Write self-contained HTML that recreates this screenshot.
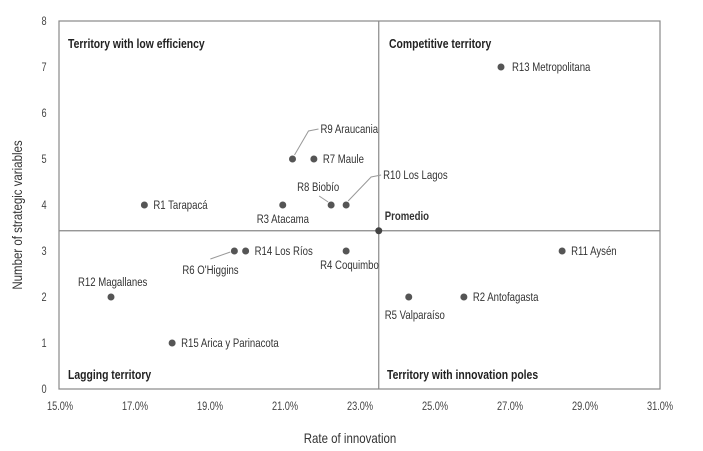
<!DOCTYPE html>
<html><head><meta charset="utf-8"><style>
body{margin:0;background:#fff;}
svg{display:block;font-family:"Liberation Sans",sans-serif;}
.lbl{font-size:12px;fill:#333;}
.q{font-size:13px;font-weight:bold;fill:#222;}
.tick{font-size:11.5px;fill:#444;}
</style></head><body>
<svg id="chart" width="703" height="451">
<rect x="59" y="21" width="601" height="368" fill="none" stroke="#888" stroke-width="1.2"/>
<g id="ticks"></g>
<g id="avg"></g>
<g id="leaders" stroke="#999" fill="none" stroke-width="1"></g>
<g id="points"></g>
<text class="q" transform="translate(68,48) scale(0.8,1)">Territory with low efficiency</text>
<text class="q" transform="translate(389,48) scale(0.8,1)">Competitive territory</text>
<text class="q" transform="translate(68,379) scale(0.8,1)">Lagging territory</text>
<text class="q" transform="translate(387,379) scale(0.8,1)">Territory with innovation poles</text>
<text transform="translate(350,443) scale(0.82,1)" text-anchor="middle" font-size="14" fill="#333">Rate of innovation</text>
<text transform="translate(22,215) rotate(-90) scale(0.82,1)" text-anchor="middle" font-size="14" fill="#333">Number of strategic variables</text>
</svg>
<script>
const names=["R1 Tarapacá","R12 Magallanes","R15 Arica y Parinacota","R6 O'Higgins","R14 Los Ríos","R3 Atacama","R9 Araucania","R7 Maule","R8 Biobío","R10 Los Lagos","R4 Coquimbo","R13 Metropolitana","R11 Aysén","R5 Valparaíso","R2 Antofagasta"];
const innovation=[17.25,16.36,17.99,19.65,19.95,20.94,21.2,21.77,22.23,22.63,22.63,26.76,28.39,24.3,25.77];
const strategic=[4,2,1,3,3,4,5,5,4,4,3,7,3,2,2];
const avgX=23.5, avgY=3.44;
const xTicks=[15,17,19,21,23,25,27,29,31];
const yTicks=[0,1,2,3,4,5,6,7,8];
// label placement: [dx,dy,leader]
const place=[[9,4,0],[-33,-11,0],[9,4,0],[-52,23,1],[9,4,0],[-26,18,0],[28,-26,1],[9,4,0],[-34,-14,1],[37,-26,1],[-26,18,0],[11,4,0],[9,4,0],[-24,22,0],[9,4,0]];
const X=v=>60+(v-15)*37.5, Y=v=>389-v*46;
const NS="http://www.w3.org/2000/svg";
function mk(t,a,p){const e=document.createElementNS(NS,t);for(const k in a)e.setAttribute(k,a[k]);p.appendChild(e);return e;}
function txt(x,y,s,cls,anchor,p,extra){const t=mk('text',Object.assign({transform:`translate(${x},${y}) scale(0.8,1)`,class:cls,'text-anchor':anchor||'start'},extra||{}),p);t.textContent=s;return t;}
const tg=document.getElementById('ticks');
xTicks.forEach(v=>{const t=txt(X(v),410,v.toFixed(1)+'%','tick','middle',tg);

});
yTicks.forEach(v=>{const t=txt(44,Y(v)+4,String(v),'tick','middle',tg);

});
const ag=document.getElementById('avg');
let l1=mk('line',{x1:X(avgX),x2:X(avgX),y1:21,y2:389,stroke:'#888','stroke-width':1.2},ag);


let l2=mk('line',{x1:59,x2:660,y1:Y(avgY),y2:Y(avgY),stroke:'#888','stroke-width':1.2},ag);


let pc=mk('circle',{cx:X(avgX),cy:Y(avgY),r:3.5,fill:'#444'},ag);


let pt=txt(X(avgX)+6,Y(avgY)-11,'Promedio','lbl','start',ag,{'font-weight':'bold'});


const pg=document.getElementById('points'),lg=document.getElementById('leaders');
names.forEach((n,i)=>{const cx=X(innovation[i]),cy=Y(strategic[i]);const p=place[i];
const c=mk('circle',{cx:cx,cy:cy,r:3.5,fill:'#555'},pg);


const tx=cx+p[0],ty=cy+p[1];
const t=txt(tx,ty,n,'lbl','start',pg);


if(p[2]){let d;
 if(p[1]<0&&p[0]>0) d=`M${cx+2},${cy-4} L${tx-12},${ty-2} L${tx-2},${ty-4}`;
 else if(p[1]<0) d=`M${cx-3},${cy-3} L${cx-12},${cy-9}`;
 else d=`M${cx-4},${cy+1} L${cx-24},${cy+8}`;
 const ln=mk('path',{d:d},lg);
 
 }
});
</script>
</body></html>
